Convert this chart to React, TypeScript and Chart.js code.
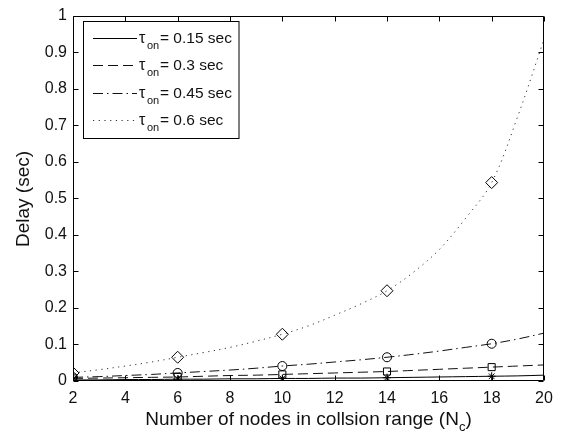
import { useEffect, useRef } from "react";
import { Chart, registerables } from "chart.js";

Chart.register(...registerables);

// ---- data ----
const nodes = [2, 3, 4, 5, 6, 7, 8, 9, 10, 11, 12, 13, 14, 15, 16, 17, 18, 19, 20];
const markerNodes = [2, 6, 10, 14, 18];
const delay015 = [0.003, 0.003, 0.004, 0.004, 0.005, 0.005, 0.006, 0.006, 0.007, 0.007, 0.008, 0.008, 0.009, 0.010, 0.011, 0.012, 0.013, 0.014, 0.016];
const delay030 = [0.007, 0.008, 0.009, 0.010, 0.011, 0.013, 0.015, 0.016, 0.018, 0.020, 0.022, 0.024, 0.026, 0.029, 0.032, 0.035, 0.038, 0.041, 0.044];
const delay045 = [0.010, 0.012, 0.015, 0.018, 0.022, 0.026, 0.030, 0.035, 0.041, 0.046, 0.052, 0.058, 0.065, 0.073, 0.082, 0.092, 0.102, 0.115, 0.131];
const delay060 = [0.022, 0.031, 0.041, 0.052, 0.065, 0.078, 0.092, 0.109, 0.128, 0.151, 0.180, 0.211, 0.247, 0.297, 0.360, 0.445, 0.543, 0.725, 0.935];
const seriesLabels = ["= 0.15 sec", "= 0.3 sec", "= 0.45 sec", "= 0.6 sec"];
const xTicks = [2, 4, 6, 8, 10, 12, 14, 16, 18, 20];
const yTicks = [0, 0.1, 0.2, 0.3, 0.4, 0.5, 0.6, 0.7, 0.8, 0.9, 1];
const xTitle = "Number of nodes in collsion range (N";
const xTitleSub = "c";
const yTitle = "Delay (sec)";

const FONT = '"Liberation Sans", Arial, Helvetica, sans-serif';

const styles = [
  { dash: [] as number[], color: "#000", marker: "star", radius: 4 },
  { dash: [10, 5], color: "#111", marker: "rect", radius: 5 },
  { dash: [10, 4, 1.5, 4], color: "#111", marker: "circle", radius: 4.5 },
  { dash: [1.2, 4.5], color: "#333", marker: "rectRot", radius: 6 },
];

const seriesValues = [delay015, delay030, delay045, delay060];

const decorPlugin = {
  id: "decor",
  afterDraw(chart: any) {
    const ctx = chart.ctx as CanvasRenderingContext2D;
    const { left, right, top, bottom } = chart.chartArea;
    const xs = chart.scales.x;
    const ys = chart.scales.y;
    ctx.save();
    ctx.strokeStyle = "#000";
    ctx.lineWidth = 1;
    ctx.setLineDash([]);
    // box
    const L = Math.round(left) + 0.5, R = Math.round(right) - 0.5;
    const T = Math.round(top) + 0.5, B = Math.round(bottom) - 0.5;
    ctx.beginPath();
    ctx.rect(L, T, R - L, B - T);
    ctx.stroke();
    // ticks inward
    const tl = 5;
    ctx.beginPath();
    for (const v of xTicks) {
      const px = Math.round(xs.getPixelForValue(v)) + 0.5;
      ctx.moveTo(px, B); ctx.lineTo(px, B - tl);
      ctx.moveTo(px, T); ctx.lineTo(px, T + tl);
    }
    for (const v of yTicks) {
      const py = Math.round(ys.getPixelForValue(v)) + 0.5;
      ctx.moveTo(L, py); ctx.lineTo(L + tl, py);
      ctx.moveTo(R, py); ctx.lineTo(R - tl, py);
    }
    ctx.stroke();

    // axis titles
    ctx.fillStyle = "#111";
    ctx.textBaseline = "alphabetic";
    ctx.font = `19px ${FONT}`;
    const mainW = ctx.measureText(xTitle).width;
    ctx.font = `13px ${FONT}`;
    const subW = ctx.measureText(xTitleSub).width;
    ctx.font = `19px ${FONT}`;
    const closeW = ctx.measureText(")").width;
    const total = mainW + subW + closeW;
    const cx = (left + right) / 2;
    const x0 = cx - total / 2;
    const base = 425;
    ctx.textAlign = "left";
    ctx.fillText(xTitle, x0, base);
    ctx.font = `13px ${FONT}`;
    ctx.fillText(xTitleSub, x0 + mainW, base + 6);
    ctx.font = `19px ${FONT}`;
    ctx.fillText(")", x0 + mainW + subW, base);

    ctx.save();
    ctx.translate(29, 199);
    ctx.rotate(-Math.PI / 2);
    ctx.textAlign = "center";
    ctx.fillText(yTitle, 0, 0);
    ctx.restore();

    // legend
    ctx.fillStyle = "#fff";
    ctx.fillRect(84, 22, 155, 116);
    ctx.strokeStyle = "#000";
    ctx.strokeRect(83.5, 21.5, 155.5, 117);
    for (let i = 0; i < seriesLabels.length; i++) {
      const cy = 37.5 + 27.6 * i;
      const st = styles[i];
      ctx.strokeStyle = st.color;
      ctx.setLineDash(st.dash);
      ctx.beginPath();
      ctx.moveTo(93, Math.round(cy) + 0.5);
      ctx.lineTo(137, Math.round(cy) + 0.5);
      ctx.stroke();
      ctx.setLineDash([]);
      ctx.fillStyle = "#111";
      ctx.textAlign = "left";
      ctx.font = `16px ${FONT}`;
      ctx.fillText("\u03C4", 139, cy + 5);
      ctx.font = `11px ${FONT}`;
      ctx.fillText("on", 147, cy + 11);
      ctx.font = `15.5px ${FONT}`;
      ctx.fillText(seriesLabels[i], 160, cy + 5);
    }
    ctx.restore();
  },
};

export default function App() {
  const ref = useRef<HTMLCanvasElement | null>(null);
  useEffect(() => {
    if (!ref.current) return;
    const datasets = seriesValues.map((vals, i) => {
      const st = styles[i];
      return {
        label: seriesLabels[i],
        data: nodes.map((n, k) => ({ x: n, y: vals[k] })),
        borderColor: st.color,
        borderWidth: 1,
        borderDash: st.dash,
        fill: false,
        tension: 0.35,
        pointStyle: st.marker,
        pointRadius: nodes.map((n) => (markerNodes.includes(n) ? st.radius : 0)),
        pointHoverRadius: 0,
        pointBorderColor: "#000",
        pointBackgroundColor: "rgba(0,0,0,0)",
        pointBorderWidth: 1,
      };
    });
    const chart = new Chart(ref.current, {
      type: "line",
      data: { datasets },
      plugins: [decorPlugin],
      options: {
        animation: false,
        responsive: false,
        layout: { padding: { left: 0, right: 24, top: 10, bottom: 0 } },
        plugins: { legend: { display: false }, tooltip: { enabled: false } },
        scales: {
          x: {
            type: "linear",
            min: 2,
            max: 20,
            grid: { display: false, drawTicks: false },
            border: { display: false },
            ticks: {
              stepSize: 2,
              padding: 8,
              color: "#111",
              font: { family: FONT, size: 16 },
              maxRotation: 0,
              callback: (v: any) => String(v),
            },
            afterFit: (s: any) => { s.height = 63; },
          },
          y: {
            type: "linear",
            min: 0,
            max: 1,
            grid: { display: false, drawTicks: false },
            border: { display: false },
            ticks: {
              stepSize: 0.1,
              padding: 6,
              color: "#111",
              font: { family: FONT, size: 16 },
              callback: (v: any) => String(Math.round(Number(v) * 10) / 10),
            },
            afterFit: (s: any) => { s.width = 73; },
          },
        },
      } as any,
    });
    return () => chart.destroy();
  }, []);
  return (
    <div style={{ position: "absolute", left: 0, top: 0, width: 568, height: 444, background: "#fff" }}>
      <canvas ref={ref} width={568} height={444} />
    </div>
  );
}
